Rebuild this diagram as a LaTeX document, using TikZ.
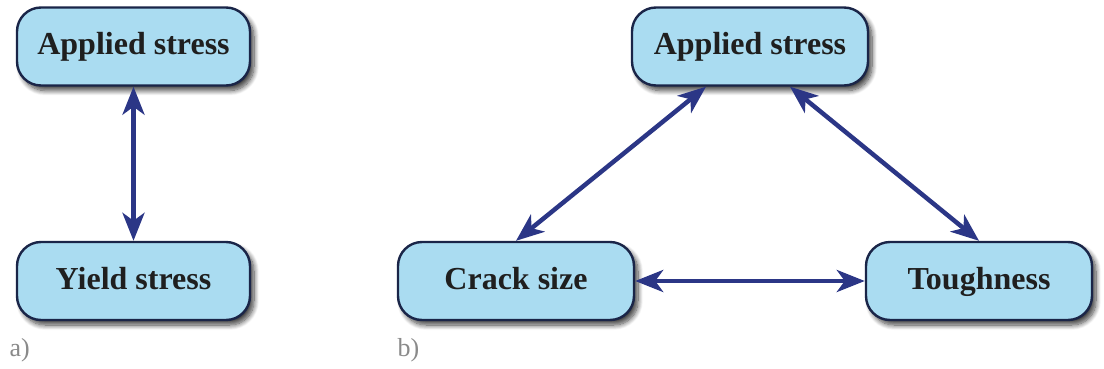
\documentclass[tikz,border=0pt]{standalone}
\usepackage{fontspec}
\setmainfont{Liberation Serif}
\usetikzlibrary{arrows.meta,shadows.blur,calc}
\definecolor{boxfill}{HTML}{AADCF1}
\definecolor{boxline}{HTML}{1A2548}
\definecolor{arrowc}{HTML}{2B3686}
\definecolor{labelc}{HTML}{8A8A8A}
\begin{document}
\begin{tikzpicture}[x=1pt,y=1pt,
  factor/.style={draw=boxline, line width=2.4pt, fill=boxfill,
    rounded corners=24pt, minimum height=78pt, inner sep=0pt,
    text height=21pt, text depth=5pt,
    font=\fontsize{32}{34}\selectfont\bfseries, text=black!88,
    blur shadow={shadow xshift=4pt, shadow yshift=-5pt,
      shadow blur steps=10, shadow blur radius=5pt, shadow opacity=75}},
  tip/.tip={Stealth[length=28pt,width=22pt,inset=8pt]},
  link/.style={draw=arrowc, line width=4.5pt, tip-tip},
  panel/.style={font=\fontsize{26}{28}\selectfont, text=labelc, anchor=west}
]
\useasboundingbox (0,0) rectangle (1104,368);

% panel a: two factors
\node[factor, minimum width=233pt] (appa) at (133.5,321.5) {Applied stress};
\node[factor, minimum width=233pt] (yield) at (133.5,87) {Yield stress};
\draw[link] (appa) -- (yield);
\node[panel] (la) at (6,18) {a)};

% panel b: three factors in a triangle
\node[factor, minimum width=236pt] (appb) at (750,321.5) {Applied stress};
\node[factor, minimum width=236pt] (crack) at (516,87) {Crack size};
\node[factor, minimum width=226pt] (tough) at (979,87) {Toughness};
\draw[link] (crack.north) -- ([xshift=-44pt]appb.south);
\draw[link] ([xshift=40pt]appb.south) -- (tough.north);
\draw[link] (crack.east) -- (tough.west);
\node[panel] (lb) at (394,18) {b)};
\end{tikzpicture}
\end{document}
